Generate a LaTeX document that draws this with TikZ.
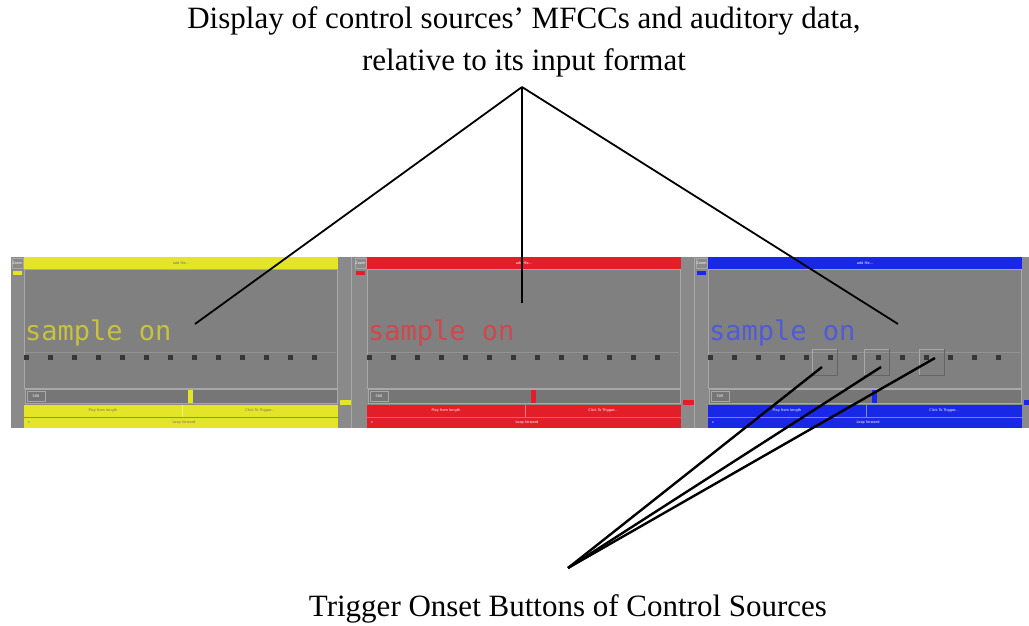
\documentclass[tikz,border=0pt]{standalone}
\usepackage{fontspec}
\setmainfont{Liberation Serif}
\newfontfamily\monofont{DejaVu Sans Mono}
\newfontfamily\uifont{DejaVu Sans}
\definecolor{bgwin}{RGB}{128,128,128}
\definecolor{strip}{RGB}{138,138,138}
\definecolor{edge}{RGB}{168,168,168}
\definecolor{btndark}{RGB}{100,100,100}
\definecolor{dot}{RGB}{55,55,55}
\definecolor{yelbar}{RGB}{228,228,40}
\definecolor{yeltxt}{RGB}{200,194,60}
\definecolor{redbar}{RGB}{228,30,40}
\definecolor{redtxt}{RGB}{208,72,76}
\definecolor{blubar}{RGB}{25,40,230}
\definecolor{blutxt}{RGB}{78,92,214}
\begin{document}
\begin{tikzpicture}[x=1pt,y=-1pt,
  connector/.style={draw=black,line width=1.8pt},
  trigline/.style={draw=black,line width=2.4pt},
  caption/.style={font=\fontsize{31}{42}\selectfont,align=center,inner sep=0pt},
  tiny/.style={font=\uifont\fontsize{3.5}{4}\selectfont,inner sep=0pt},
  sampletext/.style={anchor=base west,inner sep=0pt,font=\monofont\fontsize{27}{27}\selectfont},
  trigbtn/.style={minimum width=25pt,minimum height=26pt,inner sep=0pt,draw=edge,line width=0.8pt}
]
\useasboundingbox (0,0) rectangle (1029,626);

% window strip behind the three source panels
\fill[strip] (11,257) rectangle (1029,428);

% one panel per control source: left edge, bar colour, text colour, label colour
\foreach \X/\bc/\tc/\lc in {11/yelbar/yeltxt/black!55, 354/redbar/redtxt/white!80, 695/blubar/blutxt/white!75} {
  \pgfmathsetmacro\M{\X+13}
  % side strips
  \draw[edge,line width=0.6pt] (\X+1,258) rectangle (\X+12,268);
  \node[tiny,text=white!85] at (\X+6.5,263) {Zoom};
  \fill[\bc] (\X+2,271) rectangle (\X+11,275);
  \draw[edge,line width=0.6pt] (\X+340,257) -- (\X+340,428);
  \fill[\bc] (\X+329,400) rectangle (\X+340,405);
  % title bar
  \fill[\bc] (\M,257) rectangle (\M+314,269);
  \node[tiny,text=\lc] at (\M+157,263) {add file...};
  % display area
  \filldraw[fill=bgwin,draw=edge,line width=0.6pt] (\M,269) rectangle (\M+313,388);
  \draw[bgwin!85!white,line width=0.4pt] (\M+1,352) -- (\M+312,352);
  \foreach \i in {0,...,12}
    \fill[dot] (\M+2+24*\i-2.5,354.5) rectangle ++(5,5);
  \node[sampletext,text=\tc] at (\M+1,340) {sample on};
  % slider row
  \filldraw[fill=bgwin!92!black,draw=edge,line width=0.6pt] (\M+1,389) rectangle (\M+313,403);
  \draw[edge,line width=0.5pt] (\M+3,391) rectangle (\M+21,401);
  \node[tiny,text=white!85] at (\M+12,396) {500};
  \fill[\bc] (\M+164,390) rectangle (\M+169,403);
  % button row
  \fill[\bc] (\M,405) rectangle (\M+314,417);
  \draw[\bc!55!white,line width=0.6pt] (\M+158,405) -- (\M+158,417);
  \node[tiny,text=\lc] at (\M+79,411) {Play from length};
  \node[tiny,text=\lc] at (\M+236,411) {Click To Trigger...};
  % bottom bar
  \fill[\bc] (\M,418) rectangle (\M+314,428);
  \node[tiny,text=\lc] at (\M+5,423) {v};
  \node[tiny,text=\lc] at (\M+160,423) {Loop forward};
}

% trigger onset buttons of the third source (raised look)
\node[trigbtn] (trig1) at (824.5,362) {};
\node[trigbtn] (trig2) at (876.5,362) {};
\node[trigbtn] (trig3) at (931.5,362) {};
\foreach \btn in {trig1,trig2,trig3}
  \draw[draw=btndark,line width=0.8pt] (\btn.south west) -- (\btn.south east) -- (\btn.north east);

% captions
\node[caption,anchor=north] (title) at (524,6)
  {Display of control sources' MFCCs and auditory data,\\relative to its input format};
\node[caption,anchor=base] (note) at (568,616) {Trigger Onset Buttons of Control Sources};

% connector ends
\coordinate (topapex) at (522,87);
\coordinate (dispA) at (195,324);
\coordinate (dispB) at (522,303);
\coordinate (dispC) at (898,324);
\coordinate (botapex) at (568,568);
\coordinate (hit1) at (822,367);
\coordinate (hit2) at (881,367);
\coordinate (hit3) at (935,358);

\draw[connector] (topapex) -- (dispA);
\draw[connector] (topapex) -- (dispB);
\draw[connector] (topapex) -- (dispC);
\draw[trigline] (botapex) -- (hit1);
\draw[trigline] (botapex) -- (hit2);
\draw[trigline] (botapex) -- (hit3);
\end{tikzpicture}
\end{document}
